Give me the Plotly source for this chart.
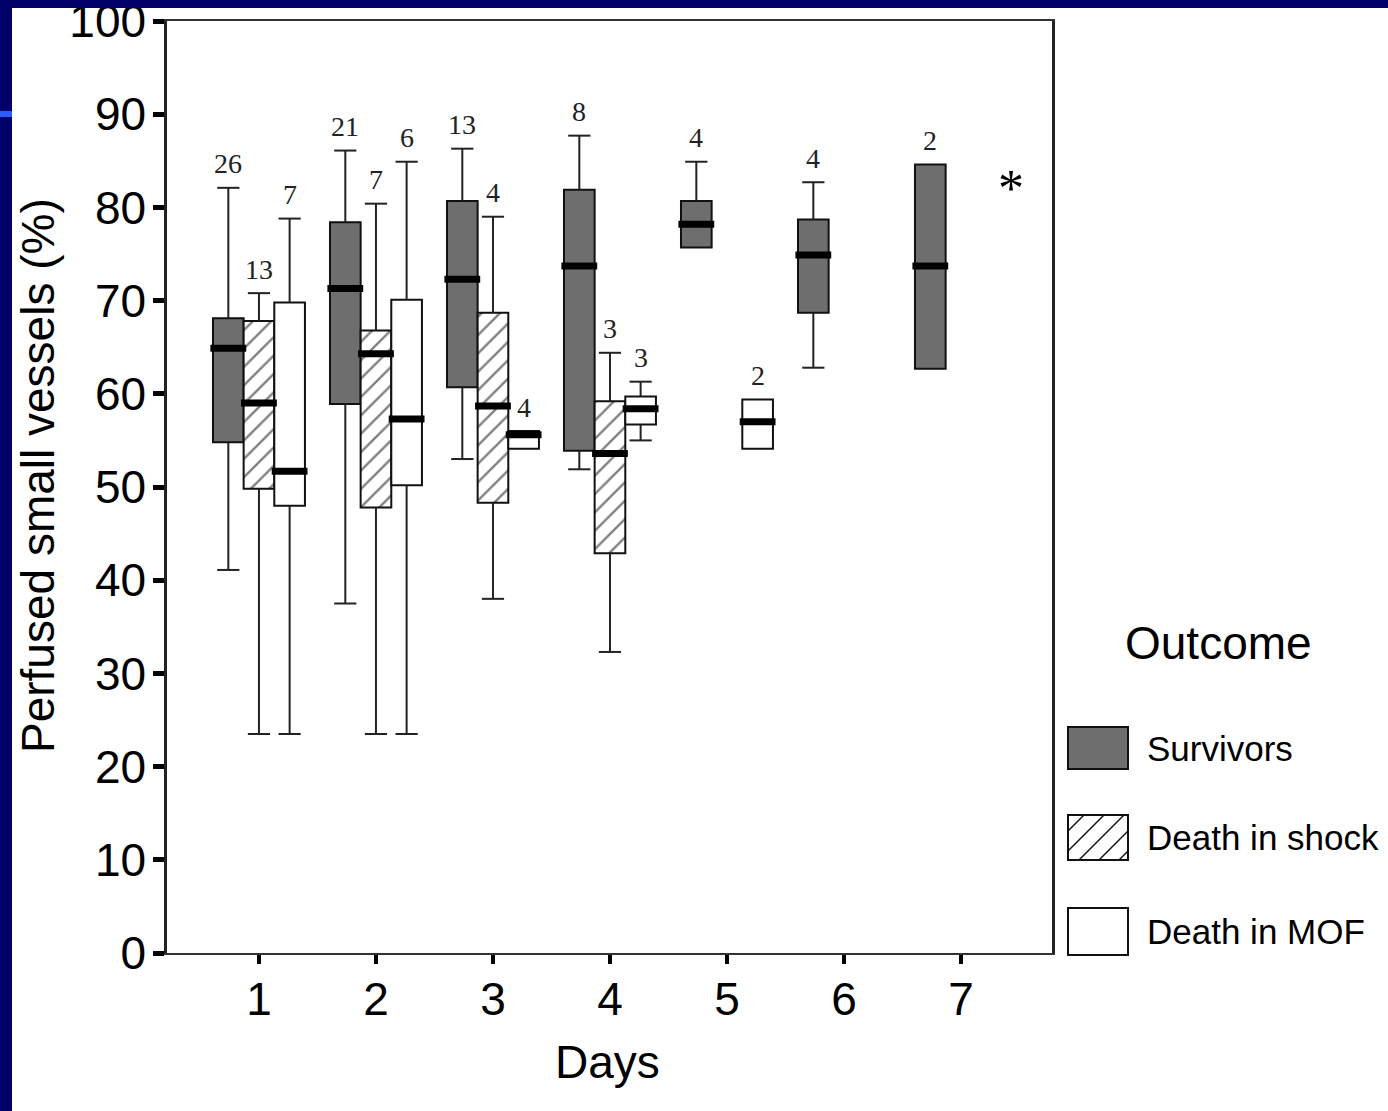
import plotly.graph_objects as go

# ---------------- data ----------------
days = [1, 2, 3, 4, 5, 6, 7]
day_labels = ["1", "2", "3", "4", "5", "6", "7"]
y_ticks = [0, 10, 20, 30, 40, 50, 60, 70, 80, 90, 100]

# Survivors
surv_low = [41.1, 37.5, 53.0, 51.9, 75.7, 62.8, 62.7]
surv_q1 = [54.8, 58.9, 60.7, 53.9, 75.7, 68.7, 62.7]
surv_med = [64.9, 71.3, 72.3, 73.7, 78.2, 74.9, 73.7]
surv_q3 = [68.1, 78.4, 80.7, 81.9, 80.7, 78.7, 84.6]
surv_high = [82.1, 86.1, 86.3, 87.7, 84.9, 82.7, 84.6]
surv_n = [26, 21, 13, 8, 4, 4, 2]

# Death in shock
shock_low = [23.5, 23.5, 38.0, 32.3, None, None, None]
shock_q1 = [49.8, 47.8, 48.3, 42.9, None, None, None]
shock_med = [59.0, 64.3, 58.7, 53.6, None, None, None]
shock_q3 = [67.8, 66.8, 68.7, 59.2, None, None, None]
shock_high = [70.8, 80.4, 79.0, 64.4, None, None, None]
shock_n = [13, 7, 4, 3, None, None, None]

# Death in MOF
mof_low = [23.5, 23.5, 54.1, 55.0, 54.1, None, None]
mof_q1 = [48.0, 50.2, 54.1, 56.7, 54.1, None, None]
mof_med = [51.7, 57.3, 55.6, 58.4, 57.0, None, None]
mof_q3 = [69.8, 70.1, 56.0, 59.7, 59.4, None, None]
mof_high = [78.8, 84.9, 56.0, 61.3, 59.4, None, None]
mof_n = [7, 6, 4, 3, 2, None, None]

series_names = ["Survivors", "Death in shock", "Death in MOF"]

# ---------------- styling ----------------
NAVY = "#000068"
GRAY_FILL = "#6e6e6e"
BOX_W = 0.262          # box width in day units
CAP_HALF = 0.095
MED_EXTRA = 0.022
SANS = "Liberation Sans, Arial, sans-serif"
SERIF = "Liberation Serif, Times New Roman, serif"

# figure/plot geometry (pixels)
FIG_W, FIG_H = 1388, 1111
L, R, T, B = 167, 1052, 21, 953
PW, PH = R - L, B - T


def pxx(x):
    return (x - L) / PW


def pxy(y):
    return (B - y) / PH


fig = go.Figure()

series = [
    dict(name=series_names[0], shift=-1, low=surv_low, q1=surv_q1, med=surv_med, q3=surv_q3,
         high=surv_high, n=surv_n, fill=GRAY_FILL, pattern=None),
    dict(name=series_names[1], shift=0, low=shock_low, q1=shock_q1, med=shock_med, q3=shock_q3,
         high=shock_high, n=shock_n, fill="white", pattern="/"),
    dict(name=series_names[2], shift=1, low=mof_low, q1=mof_q1, med=mof_med, q3=mof_q3,
         high=mof_high, n=mof_n, fill="white", pattern=None),
]

annotations = []

for s in series:
    idx = [i for i in range(len(days)) if s["q1"][i] is not None]
    xs = [days[i] for i in idx]
    base = [s["q1"][i] for i in idx]
    height = [s["q3"][i] - s["q1"][i] for i in idx]
    marker = dict(color=s["fill"], line=dict(color="#111111", width=2))
    if s["pattern"]:
        marker["pattern"] = dict(shape=s["pattern"], size=13, solidity=0.18,
                                 fgcolor="black", bgcolor="white", fillmode="overlay")
    fig.add_trace(go.Bar(
        x=xs, y=height, base=base, width=BOX_W,
        offset=s["shift"] * BOX_W - BOX_W / 2,
        marker=marker, name=s["name"], showlegend=False, hoverinfo="skip",
    ))

    # whiskers and caps
    wx, wy = [], []
    for i in idx:
        c = days[i] + s["shift"] * BOX_W
        if s["high"][i] > s["q3"][i]:
            wx += [c, c, None, c - CAP_HALF, c + CAP_HALF, None]
            wy += [s["q3"][i], s["high"][i], None, s["high"][i], s["high"][i], None]
        if s["low"][i] < s["q1"][i]:
            wx += [c, c, None, c - CAP_HALF, c + CAP_HALF, None]
            wy += [s["q1"][i], s["low"][i], None, s["low"][i], s["low"][i], None]
    fig.add_trace(go.Scatter(x=wx, y=wy, mode="lines", line=dict(color="#222222", width=2),
                             showlegend=False, hoverinfo="skip"))

    # medians
    mx, my = [], []
    for i in idx:
        c = days[i] + s["shift"] * BOX_W
        hw = BOX_W / 2 + MED_EXTRA
        mx += [c - hw, c + hw, None]
        my += [s["med"][i], s["med"][i], None]
    fig.add_trace(go.Scatter(x=mx, y=my, mode="lines", line=dict(color="black", width=7),
                             showlegend=False, hoverinfo="skip"))

    # n labels
    for i in idx:
        c = days[i] + s["shift"] * BOX_W
        annotations.append(dict(
            x=c, y=s["high"][i], xref="x", yref="y", text=str(s["n"][i]),
            showarrow=False, xanchor="center", yanchor="middle", yshift=24,
            font=dict(family=SERIF, size=28, color="#222222"),
        ))

# significance asterisk
annotations.append(dict(x=7.43, y=82.2, xref="x", yref="y", text="*", showarrow=False,
                        xanchor="center", yanchor="middle", yshift=-2,
                        font=dict(family=SERIF, size=52, color="black")))


def paper_text(x, y, text, size, anchor="center", angle=0):
    return dict(x=pxx(x), y=pxy(y), xref="paper", yref="paper", text=text,
                showarrow=False, xanchor=anchor, yanchor="middle", textangle=angle,
                font=dict(family=SANS, size=size, color="black"))


# axis titles
annotations.append(paper_text(607, 1062, "Days", 46))
annotations.append(paper_text(38, 476, "Perfused small vessels (%)", 46, angle=-90))

# legend (drawn manually to match large swatches)
shapes = []
annotations.append(paper_text(1218, 643, "Outcome", 46))
legend_rows = [(727, 769), (815, 860), (908, 955)]
sx0, sx1 = 1068, 1128
for s, (ya, yb) in zip(series, legend_rows):
    shapes.append(dict(type="rect", xref="paper", yref="paper",
                       x0=pxx(sx0), x1=pxx(sx1), y0=pxy(yb), y1=pxy(ya),
                       fillcolor=s["fill"], line=dict(color="#111111", width=2), layer="above"))
    if s["pattern"]:
        step = 20
        c = sx0 + ya - 4
        while c < sx1 + yb:
            c += step
            pts = []
            # line x + y = c clipped to rect
            for yy in (ya, yb):
                xx = c - yy
                if sx0 <= xx <= sx1:
                    pts.append((xx, yy))
            for xx in (sx0, sx1):
                yy = c - xx
                if ya < yy < yb:
                    pts.append((xx, yy))
            if len(pts) >= 2:
                (xa, y_a), (xb, y_b) = pts[0], pts[1]
                shapes.append(dict(type="line", xref="paper", yref="paper",
                                   x0=pxx(xa), y0=pxy(y_a), x1=pxx(xb), y1=pxy(y_b),
                                   line=dict(color="#111111", width=1.5), layer="above"))
    annotations.append(paper_text(1145, (ya + yb) / 2, s["name"], 35, anchor="left"))

# navy slide frame (top and left)
shapes.append(dict(type="rect", xref="paper", yref="paper", x0=pxx(0), x1=pxx(12),
                   y0=pxy(FIG_H), y1=pxy(0), fillcolor=NAVY, line=dict(width=0), layer="above"))
shapes.append(dict(type="rect", xref="paper", yref="paper", x0=pxx(0), x1=pxx(FIG_W),
                   y0=pxy(8), y1=pxy(0), fillcolor=NAVY, line=dict(width=0), layer="above"))
shapes.append(dict(type="rect", xref="paper", yref="paper", x0=pxx(0), x1=pxx(12),
                   y0=pxy(117), y1=pxy(111), fillcolor="#2a5cff", line=dict(width=0), layer="above"))

fig.update_layout(
    width=FIG_W, height=FIG_H,
    margin=dict(l=L, r=FIG_W - R, t=T, b=FIG_H - B, autoexpand=False),
    paper_bgcolor="white", plot_bgcolor="white",
    barmode="overlay", showlegend=False,
    annotations=annotations, shapes=shapes,
    xaxis=dict(range=[0.214, 7.778], tickvals=days, ticktext=day_labels,
               ticks="outside", ticklen=9, tickwidth=4, tickcolor="black",
               ticklabelstandoff=-4,
               showline=True, linecolor="#333333", linewidth=2, mirror=True,
               showgrid=False, zeroline=False,
               tickfont=dict(family=SANS, size=46, color="black")),
    yaxis=dict(range=[0, 100], tickvals=y_ticks, ticks="outside", ticklen=11, tickwidth=5,
               tickcolor="black", showline=True, linecolor="#222222", linewidth=2.5, mirror=True,
               showgrid=False, zeroline=False, ticklabeloverflow="allow",
               ticklabelstandoff=-2,
               tickfont=dict(family=SANS, size=46, color="black")),
)

fig.write_html("out.html")
